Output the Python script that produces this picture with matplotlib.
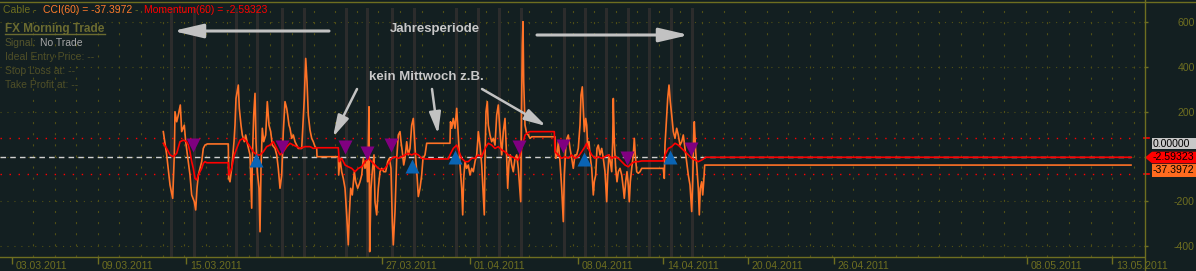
import matplotlib
matplotlib.use("Agg")
import matplotlib.pyplot as plt
import matplotlib.transforms as mtransforms
from matplotlib.lines import Line2D
from matplotlib.patches import Rectangle, Polygon
from matplotlib.ticker import FixedLocator, MultipleLocator

W, H = 1196, 271

# time axis in bar units (one bar per pixel column of the terminal chart)
date_pos = [11.5, 97.6, 186, 381.5, 470, 578, 663, 748, 834, 1027, 1112]
date_labels = ["03.03.2011", "09.03.2011", "15.03.2011", "27.03.2011",
               "01.04.2011", "08.04.2011", "14.04.2011", "20.04.2011",
               "26.04.2011", "08.05.2011", "13.05.2011"]

# highlighted sessions (dark vertical bars)
session_x = [171, 194, 236, 257, 282, 304, 346, 367, 392, 414, 456, 478,
             499, 521, 564, 585, 606, 628, 649, 671, 692]

y_ticks = [-400, -200, 0, 200, 400, 600]
levels = [85, -77]

cci_last = -37.3972
mom_last = -2.59323

# CCI(60)
cci_x = [163.3, 166.7, 170, 172.7, 174.3, 175, 176.7, 178.3, 180.3, 181.7,
         184.3, 185.7, 188.3, 190, 191.7, 194.3, 195.7, 197, 198.3, 201.7,
         203.3, 205, 207.3, 228.3, 228.7, 230, 231.7, 234, 235, 236,
         238.3, 239.3, 241, 242.3, 244.3, 245.7, 247.7, 250, 251.7, 252.3,
         253.7, 255, 256, 257.3, 259, 260, 261, 262.3, 263.7, 265.7,
         267.3, 269, 270.7, 272.3, 275, 276.7, 278.3, 280, 281.7, 283.3,
         285, 286.7, 287.7, 289, 290, 291.7, 293.3, 295, 296.7, 298.3,
         301.7, 304.3, 305.7, 307, 308.3, 310, 311.7, 313.3, 315, 316.7,
         317, 338.3, 338.7, 340, 341.7, 343.3, 345, 346.7, 348.3, 349.3,
         350.7, 352.3, 354.3, 355.7, 357.7, 360, 361.7, 363.3, 365, 366.7,
         367.7, 369, 369.7, 371, 372.3, 374, 375, 376.7, 378.3, 380,
         381.7, 383.7, 385.7, 387.7, 389.3, 391, 392.3, 393.3, 395, 396.7,
         398.3, 400, 401, 402.3, 403.7, 405, 406.7, 408.3, 410, 411.7,
         413.3, 414.3, 415.7, 417, 418.3, 420, 421.7, 423, 425, 426.7,
         450, 450.5, 451.7, 453.3, 455, 456.7, 457.7, 459, 460, 461.7,
         462.7, 463.7, 465, 466.7, 468.3, 470, 471.7, 473.3, 475, 476.7,
         477.7, 478.3, 480, 481.7, 483.3, 484.3, 485, 486, 487.3, 488.3,
         490, 491.7, 493.3, 495, 496.7, 498.3, 500, 501.7, 503.3, 505,
         505.7, 506.7, 507.7, 509, 510.3, 511.7, 513.3, 515, 516.7, 518.3,
         520, 520.7, 521.3, 522.3, 523, 523.7, 525, 526.7, 528.3, 530,
         531.7, 555, 555.7, 557, 558.3, 560, 561.7, 562.7, 563.3, 564.3,
         565.7, 567, 568.3, 570, 571.7, 573.3, 575, 576.7, 578.3, 580,
         581, 582.3, 583.3, 584.3, 585.7, 586.7, 587.7, 589, 590, 591.7,
         593.3, 594.3, 595.7, 597, 598.3, 600, 601.7, 603.3, 605, 606.7,
         607.7, 609, 610.3, 611.7, 612.7, 613.3, 614.3, 615.7, 617, 618.3,
         620, 621.7, 623.3, 624.3, 625.7, 627, 628.3, 629.3, 630.3, 631.7,
         633.3, 634.3, 635.3, 636.7, 638.3, 640, 641.7, 663.3, 664.3, 665,
         666.7, 667.7, 669, 670.3, 671.7, 673.3, 675, 676.7, 678.3, 680,
         681.7, 683.3, 685, 686.7, 688.3, 690, 691.7, 692.7, 693.7, 694.3,
         695.7, 696.7, 698.3, 699.3, 700.3, 701.7, 702.7, 703.7, 704.7, 1131]
cci_y = [112, 8, -126, -186, 8, 201, 156, 186, 231, 112,
         141, 67, -22, -82, -171, -201, -238, -141, -82, -22,
         37, 52, 57, 57, -97, -112, -52, 67, 141, 260,
         320, 216, 141, 97, 67, 97, 52, 8, -230, -22,
         186, 283, 67, -67, -141, -335, -52, 127, 67, 97,
         246, 141, 112, 52, 37, 8, -52, -141, -82, 112,
         246, 216, 186, 141, 127, 82, 97, 67, 52, 37,
         37, 260, 439, 335, 186, 119, 82, 67, 45, 37,
         0, 0, -82, -7, -67, -97, -141, -260, -394, -260,
         -141, -171, -67, -112, -141, -112, -82, -7, -52, -22,
         -112, 223, -424, -141, -67, 8, -201, -260, -141, -67,
         -52, -67, -67, -22, -7, -52, -290, -394, -245, -7,
         97, 112, 67, 22, -37, -7, 67, 8, 37, 141,
         171, 97, -7, -82, -178, -141, -82, -7, 8, 60,
         60, 156, 127, 171, 127, 216, 141, 37, -37, -141,
         -260, -97, -22, -52, -37, -82, -52, -67, -22, 8,
         67, 112, 52, -37, -171, -260, -7, 201, 246, 141,
         97, 67, 82, 52, 186, 231, 112, 8, 112, 171,
         97, -7, -141, -22, 8, -37, -67, -7, 8, -52,
         -156, -201, 112, 499, 603, 335, 141, 104, 97, 82,
         89, 89, -7, 8, 67, -22, -141, -230, -290, -82,
         37, 82, 97, 37, -7, -52, 8, 8, 37, 141,
         275, 312, 216, 112, 171, 141, 37, 67, 8, -52,
         -171, -112, -82, 37, 52, 8, 37, -7, -67, -201,
         -82, 8, -22, -67, 67, 260, 67, -52, -112, -67,
         -52, -82, -141, -186, -112, -67, -126, -201, -112, -52,
         8, 82, 8, -67, -74, -67, -52, -52, -97, 52,
         186, 260, 320, 246, 186, 112, 82, 127, 97, 52,
         67, 97, 37, -22, -82, -126, -245, -112, 97, 156,
         22, -37, -141, -260, -141, -112, -171, -112, cci_last, cci_last]

# Momentum(60)
mom_x = [163.3, 166.7, 170, 173.3, 176.7, 180, 183.3, 186.7, 188.3, 190,
         191.7, 193.3, 195, 196.7, 198.3, 201.7, 203.3, 205, 206.7, 228.3,
         229, 231.7, 234.3, 236.7, 240, 243.3, 246.7, 250, 253.3, 256.7,
         260, 263.3, 266.7, 270, 273.3, 276.7, 280, 283.3, 286.7, 290,
         293.3, 296.7, 300, 305, 310, 313.3, 316.7, 338.3, 339.3, 341.7,
         345, 348.3, 351.7, 355, 358.3, 361.7, 365, 368.3, 371.7, 375,
         378.3, 381.7, 385, 388.3, 391.7, 395, 398.3, 401.7, 405, 408.3,
         411.7, 415, 418.3, 421.7, 425, 448.3, 450, 453.3, 456.7, 459,
         461.7, 465, 468.3, 471.7, 475, 478.3, 481.7, 485, 488.3, 491.7,
         495, 498.3, 501.7, 505, 508.3, 511.7, 515, 518.3, 521.7, 525,
         528.3, 530, 554.3, 555, 558.3, 561.7, 565, 568.3, 571.7, 575,
         578.3, 581.7, 585, 586.7, 588.3, 591.7, 595, 598.3, 601.7, 605,
         608.3, 611.7, 615, 618.3, 621.7, 625, 628.3, 631.7, 635, 638.3,
         641.7, 663.3, 665, 668.3, 671.7, 675, 678.3, 681.7, 685, 688.3,
         691.7, 695, 698.3, 701.7, 704.3, 705.7, 1131]
mom_y = [60, 37, 8, 0, 15, 67, 74, 67, 52, 22,
         -22, -52, -97, -104, -82, -52, -30, -22, -27, -27,
         -82, -52, 8, 37, 74, 82, 67, 45, 22, 8,
         8, 22, 45, 52, 67, 37, 8, 22, 45, 60,
         52, 45, 37, 45, 45, 37, 40, 40, -22, -7,
         -37, -45, -52, -67, -52, -45, -22, -7, -22, -37,
         -52, -59, -52, -30, -7, 0, -7, 0, 8, 15,
         8, 15, 8, -7, -10, -10, 8, 37, 52, 22,
         -7, -22, -22, -7, -7, 8, 0, 37, 60, 52,
         37, 45, 30, 22, 8, 0, -7, -15, 37, 97,
         109, 112, 112, 22, 8, -7, 0, -7, 8, -7,
         0, 22, 45, 60, 37, 8, -7, 0, -7, 0,
         8, -7, 0, -7, -22, -37, -45, -30, -22, -22,
         -19, -19, 8, 37, 45, 60, 52, 37, 22, 8,
         -7, -15, -22, -15, -7, mom_last, mom_last]

# FX Morning Trade signals
sell_x = [192.7, 281.7, 345, 367, 391, 519, 562.7, 627, 691]
sell_y = [52, 45, 45, 18, 52, 45, 48, -6, 34]
buy_x = [256, 412, 455, 584, 669.7]
buy_y = [-15, -42, -3, -12, -1]

plt.rcParams["font.family"] = ["Liberation Sans", "DejaVu Sans"]
plt.rcParams["lines.scale_dashes"] = False

BG = "#131f21"
OLIVE = "#6e6e20"
GRID = "#4f4f16"
BAND = "#2c2c2c"
ORANGE = "#ff7226"
RED = "#ff0000"
ARROW = "#c2c2c2"


def fp(x, y):
    """pixel position (from top left) -> figure fraction"""
    return x / W, 1 - y / H


fig = plt.figure(figsize=(W / 100, H / 100), dpi=100, facecolor=BG)
ax = fig.add_axes([0, 1 - 257 / H, 1144 / W, 255 / H])
ax.set_facecolor(BG)
ax.set_xlim(0, 1144)
ax.set_ylim(-448, 691)

for side in ["left", "top", "right"]:
    ax.spines[side].set_visible(False)
ax.spines["bottom"].set_color(OLIVE)
ax.spines["bottom"].set_linewidth(1)

# frame lines that run over the whole window
fig.add_artist(Line2D([0, 1], [1 - 1.5 / H] * 2, transform=fig.transFigure,
                      color=OLIVE, lw=1))
fig.add_artist(Line2D([1144.5 / W] * 2, [0, 1], transform=fig.transFigure,
                      color=OLIVE, lw=1))

# grid
ax.set_axisbelow(True)
ax.yaxis.set_major_locator(FixedLocator(y_ticks))
ax.grid(axis="y", which="major", color=GRID, linestyle=(0, (0.8, 4.2)), lw=0.8)
ax.xaxis.set_minor_locator(MultipleLocator(21.58, offset=11.5))
ax.grid(axis="x", which="minor", color=GRID, linestyle=(0, (1.5, 6.5)), lw=0.8)

# x ticks and date labels
ax.set_xticks(date_pos)
ax.set_xticklabels([])
ax.tick_params(axis="x", which="major", length=5, width=1, color=OLIVE,
               direction="out")
ax.tick_params(axis="x", which="minor", length=0)
for p, lab in zip(date_pos, date_labels):
    ax.text(p + 3.8, -0.036, lab, transform=ax.get_xaxis_transform(),
            ha="left", va="center", fontsize=7.6, color=OLIVE, clip_on=False)

# y ticks on the right (the 0 label sits under the value boxes)
ax.yaxis.tick_right()
ax.set_yticklabels([str(v) if v != 0 else "" for v in y_ticks])
ax.tick_params(axis="y", length=3, width=1, color=OLIVE, labelcolor=OLIVE,
               labelsize=7.6, pad=33.5)
for lbl in ax.get_yticklabels():
    lbl.set_horizontalalignment("right")

# highlighted sessions
for sx in session_x:
    ax.axvspan(sx - 1.5, sx + 1.5, ymin=0, ymax=(664 + 448) / 1139,
               color=BAND, lw=0, zorder=0.6)

# level lines
btrans = mtransforms.blended_transform_factory(ax.transAxes, ax.transData)
for lv in levels:
    ax.plot([0, 1131], [lv, lv], color=RED, linestyle=(0, (1, 5.5)), lw=1,
            zorder=1.5)
    ax.plot([1.0, 1.0 + 5 / 1144], [lv, lv], color=RED, lw=1.2,
            transform=btrans, clip_on=False)
ax.plot([0, 1131], [0, 0], color="#d0d0d0", linestyle=(0, (4, 3)), lw=1,
        zorder=1.6)

# indicators
ax.plot(cci_x, cci_y, color=ORANGE, lw=1.2, zorder=3)
ax.plot(mom_x, mom_y, color=RED, lw=1.2, zorder=4)

# signals
ax.plot(sell_x, sell_y, "v", ms=10, color="#800080", mec="none", zorder=5)
ax.plot(buy_x, buy_y, "^", ms=10, color="#0a64b4", mec="none", zorder=5)

# header line
hy = 1 - 10 / H
fig.text(3 / W, hy, "Cable -", fontsize=7.5, color=OLIVE, va="center")
fig.text(43 / W, hy, "CCI(60) = %.4f" % cci_last, fontsize=7.5,
         color="#ff7a2c", va="center")
fig.text(135 / W, hy, "-", fontsize=7.5, color=OLIVE, va="center")
fig.text(144 / W, hy, "Momentum(60) = %.5f" % mom_last, fontsize=7.5,
         color=RED, va="center")

# FX Morning Trade panel
fig.text(*fp(5, 28.7), "FX Morning Trade", fontsize=8.5, fontweight="bold",
         color="#6b6b30", va="center")
fig.add_artist(Line2D([5 / W, 105 / W], [1 - 33.5 / H] * 2,
                      transform=fig.transFigure, color="#6b6b30", lw=1))
fig.text(*fp(5, 43), "Signal:", fontsize=7.5, color="#55552b", va="center")
fig.text(*fp(40.5, 43), "No Trade", fontsize=7.5, color="#a6a6a6", va="center")
for yy, txt in [(57, "Ideal Entry Price: --"), (71, "Stop Loss at: --"),
                (85, "Take Profit at: --")]:
    fig.text(*fp(5, yy), txt, fontsize=7.5, color="#4f4f27", va="center")

# annotations
fig.text(*fp(390, 29.3), "Jahresperiode", fontsize=9.5, fontweight="bold",
         color="#c8c8c8", va="center")
fig.text(*fp(369, 76.7), "kein Mittwoch z.B.", fontsize=9.5,
         fontweight="bold", color="#c8c8c8", va="center")

big = dict(arrowstyle="-|>,head_length=1.5,head_width=0.35", color=ARROW,
           lw=2.2, mutation_scale=12, shrinkA=0, shrinkB=0)
small = dict(arrowstyle="-|>,head_length=1.3,head_width=0.35", color=ARROW,
             lw=1.8, mutation_scale=10, shrinkA=0, shrinkB=0)
for tail, tip, props in [((329, 31), (173, 31), big),
                         ((537, 35), (689, 35), big),
                         ((357, 89), (333, 137), small),
                         ((432, 89), (438, 134), small),
                         ((482, 89), (546, 126), small)]:
    ax.annotate("", xy=fp(*tip), xytext=fp(*tail), xycoords="figure fraction",
                textcoords="figure fraction", arrowprops=props)

# value boxes on the price scale
fig.add_artist(Rectangle(fp(1152, 149), 44 / W, 11 / H,
                         transform=fig.transFigure, fc="#c8c8c8", ec="none"))
fig.text(*fp(1153, 143.8), "0.00000", fontsize=7.6, color="black", va="center")
fig.add_artist(Polygon([fp(1145, 157.5), fp(1152, 151.7), fp(1196, 151.7),
                        fp(1196, 163.3), fp(1152, 163.3)],
                       transform=fig.transFigure, fc=RED, ec="none"))
fig.text(*fp(1153, 157.5), "%.5f" % mom_last, fontsize=7.6, color="black",
         va="center")
fig.add_artist(Rectangle(fp(1152, 176.7), 44 / W, 12.7 / H,
                         transform=fig.transFigure, fc="#ff6b1f", ec="none"))
fig.text(*fp(1153, 170.3), "%.4f" % cci_last, fontsize=7.6, color="black",
         va="center")

fig.savefig("out.png", dpi=100, facecolor=BG)
